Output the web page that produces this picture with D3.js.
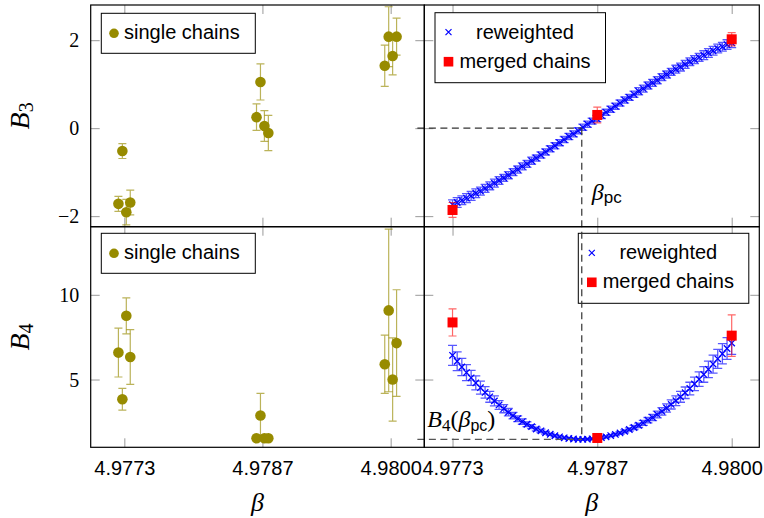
<!DOCTYPE html>
<html>
<head>
<meta charset="utf-8">
<script src="https://cdn.jsdelivr.net/npm/d3@7"></script>
<style>
html,body{margin:0;padding:0;background:#fff;}
svg{display:block;}
</style>
</head>
<body>
<svg id="c" width="764" height="518"></svg>
<script>
// ---------------- data ----------------
const xTicks = [4.9773, 4.9787, 4.9800];
const xTickLabels = ["4.9773", "4.9787", "4.9800"];
const B3Ticks = [-2, 0, 2];
const B3TickLabels = ["\u22122", "0", "2"];
const B4Ticks = [5, 10];
const B4TickLabels = ["5", "10"];

// single chains (left panels)
const singleBeta = [4.97724, 4.97728, 4.97732, 4.97736,
                    4.97864, 4.97868, 4.97872, 4.97876,
                    4.97994, 4.97998, 4.98002, 4.98006];
const B3single    = [-1.72, -0.52, -1.91, -1.69,  0.25, 1.05, 0.05, -0.11,  1.42, 2.08, 1.64, 2.08];
const B3singleErr = [ 0.17,  0.17,  0.29,  0.28,  0.30, 0.41, 0.35,  0.40,  0.47, 0.68, 0.43, 0.42];
const B4single    = [ 6.59,  3.84,  8.76,  6.33,  1.53, 2.88, 1.53,  1.53,  5.90, 9.08, 5.00, 7.15];
const B4singleErr = [ 1.44,  0.64,  1.06,  1.62,  0.05, 1.30, 0.05,  0.05,  1.72, 4.80, 2.46, 3.15];

// merged chains (right panels)
const mergedBeta   = [4.9773, 4.9787, 4.9800];
const B3merged     = [-1.86, 0.30, 2.02];
const B3mergedErr  = [0.17, 0.18, 0.15];
const B4merged     = [8.37, 1.55, 7.59];
const B4mergedErr  = [0.80, 0.05, 1.22];

// reweighted curve (right panels)
const rewBeta = [
 4.977300,4.977345,4.977390,4.977435,4.977480,4.977525,4.977570,4.977615,4.977660,4.977705,
 4.977750,4.977795,4.977840,4.977885,4.977930,4.977975,4.978020,4.978065,4.978110,4.978155,
 4.978200,4.978245,4.978290,4.978335,4.978380,4.978425,4.978470,4.978515,4.978560,4.978605,
 4.978650,4.978695,4.978740,4.978785,4.978830,4.978875,4.978920,4.978965,4.979010,4.979055,
 4.979100,4.979145,4.979190,4.979235,4.979280,4.979325,4.979370,4.979415,4.979460,4.979505,
 4.979550,4.979595,4.979640,4.979685,4.979730,4.979775,4.979820,4.979865,4.979910,4.979955,
 4.980000];
const B3rew = [
 -1.74,-1.69,-1.64,-1.59,-1.54,-1.48,-1.43,-1.37,-1.31,-1.25,
 -1.19,-1.13,-1.07,-1.00,-0.94,-0.87,-0.81,-0.74,-0.68,-0.61,
 -0.54,-0.47,-0.40,-0.33,-0.26,-0.19,-0.13,-0.06, 0.02, 0.09,
  0.16, 0.22, 0.29, 0.36, 0.43, 0.50, 0.57, 0.64, 0.70, 0.77,
  0.84, 0.90, 0.97, 1.03, 1.09, 1.16, 1.22, 1.28, 1.34, 1.39,
  1.45, 1.51, 1.56, 1.61, 1.66, 1.71, 1.76, 1.81, 1.85, 1.90,
  1.94];
const B3rewErr = [
 0.11,0.11,0.10,0.10,0.10,0.10,0.09,0.09,0.09,0.09,
 0.09,0.08,0.08,0.08,0.08,0.08,0.08,0.08,0.07,0.07,
 0.07,0.07,0.07,0.07,0.07,0.07,0.07,0.07,0.07,0.07,
 0.07,0.07,0.07,0.07,0.07,0.07,0.07,0.07,0.07,0.07,
 0.08,0.08,0.08,0.08,0.08,0.08,0.08,0.08,0.09,0.09,
 0.09,0.09,0.09,0.09,0.10,0.10,0.10,0.10,0.10,0.11,
 0.11];
const B4rew = [
 6.43,6.08,5.74,5.41,5.10,4.80,4.52,4.24,3.98,3.74,
 3.50,3.28,3.07,2.87,2.69,2.52,2.36,2.22,2.08,1.97,
 1.86,1.77,1.68,1.62,1.56,1.52,1.49,1.47,1.47,1.48,
 1.50,1.53,1.57,1.62,1.69,1.76,1.85,1.94,2.05,2.17,
 2.30,2.44,2.60,2.76,2.94,3.12,3.32,3.53,3.75,3.98,
 4.22,4.47,4.74,5.02,5.30,5.60,5.91,6.22,6.52,6.83,
 7.15];
const B4rewErr = [
 0.59,0.55,0.51,0.47,0.44,0.41,0.38,0.34,0.32,0.29,
 0.26,0.24,0.22,0.19,0.17,0.16,0.14,0.12,0.11,0.10,
 0.08,0.07,0.06,0.06,0.05,0.05,0.04,0.04,0.04,0.04,
 0.04,0.05,0.05,0.06,0.06,0.07,0.08,0.09,0.10,0.12,
 0.13,0.15,0.16,0.18,0.20,0.22,0.24,0.27,0.29,0.32,
 0.34,0.37,0.40,0.43,0.46,0.49,0.53,0.56,0.60,0.64,
 0.67];

const betaPc = 4.97855;
const B4AtBetaPc = 1.47;
const dashStartBeta = 4.97696;

// ---------------- styling ----------------
const sans = "'Liberation Sans', Arial, Helvetica, sans-serif";
const serif = "'Liberation Serif', 'Times New Roman', serif";
const olive = "#978b00";
const blue = "#0000ff";
const red = "#ff0000";
const tickColor = "#999999";

const svg = d3.select("#c");

// scales
const xL = d3.scaleLinear().domain([4.976959, 4.980341]).range([90.7, 424.3]);
const xR = d3.scaleLinear().domain([4.977027, 4.980267]).range([424.3, 759.3]);
const yT = d3.scaleLinear().domain([-2.24, 2.80]).range([226.7, 5]);
const yB = d3.scaleLinear().domain([1.0, 14.02]).range([447.3, 226.7]);

function styleAxis(a) {
  a.select(".domain").remove();
  a.selectAll(".tick line").attr("stroke", tickColor).attr("stroke-width", 1);
}

function axes(xs, ys, yTicks, yLabels, showX, showY) {
  const g = svg.append("g");
  const [x0, x1] = xs.range();
  const [y1, y0] = ys.range();
  const b = g.append("g").attr("transform", `translate(0,${y1})`)
    .call(d3.axisBottom(xs).tickValues(xTicks).tickSize(-9)
      .tickFormat((d, i) => showX ? xTickLabels[i] : ""));
  styleAxis(b);
  b.selectAll("text").attr("y", 28).attr("dy", 0)
    .attr("font-family", sans).attr("font-size", 20).attr("fill", "#000");
  const t = g.append("g").attr("transform", `translate(0,${y0})`)
    .call(d3.axisTop(xs).tickValues(xTicks).tickSize(-9).tickFormat(""));
  styleAxis(t);
  const l = g.append("g").attr("transform", `translate(${x0},0)`)
    .call(d3.axisLeft(ys).tickValues(yTicks).tickSize(-9)
      .tickFormat((d, i) => showY ? yLabels[i] : ""));
  styleAxis(l);
  l.selectAll("text").attr("x", -11.5).attr("dy", "0.33em")
    .attr("font-family", serif).attr("font-size", 20).attr("fill", "#000");
  const r = g.append("g").attr("transform", `translate(${x1},0)`)
    .call(d3.axisRight(ys).tickValues(yTicks).tickSize(-9).tickFormat(""));
  styleAxis(r);
}

axes(xL, yT, B3Ticks, B3TickLabels, false, true);
axes(xR, yT, B3Ticks, B3TickLabels, false, false);
axes(xL, yB, B4Ticks, B4TickLabels, true, true);
axes(xR, yB, B4Ticks, B4TickLabels, true, false);

function errorBars(g, xs, ys, xv, yv, ev, color, op, cap, sw) {
  const d = xv.map((x, i) => ({x: x, y: yv[i], e: ev[i]}));
  g.selectAll(null).data(d).enter().append("path")
    .attr("d", p => {
      const X = xs(p.x), Y1 = ys(p.y - p.e), Y2 = ys(p.y + p.e);
      return `M${X},${Y1}V${Y2}M${X - cap},${Y1}H${X + cap}M${X - cap},${Y2}H${X + cap}`;
    })
    .attr("fill", "none").attr("stroke", color).attr("stroke-opacity", op)
    .attr("stroke-width", sw);
}

function dots(g, xs, ys, xv, yv) {
  g.selectAll(null).data(xv.map((x, i) => [x, yv[i]])).enter().append("circle")
    .attr("cx", p => xs(p[0])).attr("cy", p => ys(p[1])).attr("r", 5.3)
    .attr("fill", olive);
}

function squares(g, xs, ys, xv, yv) {
  const s = 10;
  g.selectAll(null).data(xv.map((x, i) => [x, yv[i]])).enter().append("rect")
    .attr("x", p => xs(p[0]) - s / 2).attr("y", p => ys(p[1]) - s / 2)
    .attr("width", s).attr("height", s).attr("fill", red);
}

function crosses(g, xs, ys, xv, yv) {
  const h = 3.2;
  g.selectAll(null).data(xv.map((x, i) => [x, yv[i]])).enter().append("path")
    .attr("d", p => {
      const X = xs(p[0]), Y = ys(p[1]);
      return `M${X - h},${Y - h}L${X + h},${Y + h}M${X - h},${Y + h}L${X + h},${Y - h}`;
    })
    .attr("stroke", blue).attr("stroke-width", 1.3).attr("fill", "none");
}

const plots = svg.append("g");

// left panels: single chains
errorBars(plots, xL, yT, singleBeta, B3single, B3singleErr, olive, 0.65, 4, 1.2);
dots(plots, xL, yT, singleBeta, B3single);
errorBars(plots, xL, yB, singleBeta, B4single, B4singleErr, olive, 0.65, 4, 1.2);
dots(plots, xL, yB, singleBeta, B4single);

// right panels: reweighted + merged
errorBars(plots, xR, yT, rewBeta, B3rew, B3rewErr, blue, 0.65, 4.5, 1.3);
crosses(plots, xR, yT, rewBeta, B3rew);
errorBars(plots, xR, yT, mergedBeta, B3merged, B3mergedErr, red, 0.6, 4, 1.2);
squares(plots, xR, yT, mergedBeta, B3merged);

errorBars(plots, xR, yB, rewBeta, B4rew, B4rewErr, blue, 0.65, 4.5, 1.3);
crosses(plots, xR, yB, rewBeta, B4rew);
errorBars(plots, xR, yB, mergedBeta, B4merged, B4mergedErr, red, 0.6, 4, 1.2);
squares(plots, xR, yB, mergedBeta, B4merged);

// ---------------- legends ----------------
function singleLegend(x, y) {
  const g = svg.append("g");
  g.append("rect").attr("x", x).attr("y", y).attr("width", 154).attr("height", 40)
    .attr("fill", "#fff").attr("stroke", "#000").attr("stroke-width", 1);
  g.append("circle").attr("cx", x + 12.7).attr("cy", y + 20).attr("r", 4.8).attr("fill", olive);
  g.append("text").attr("x", x + 22.7).attr("y", y + 25.3)
    .attr("font-family", sans).attr("font-size", 20).text("single chains");
}
singleLegend(101.3, 13.3);
singleLegend(101.3, 233.3);

function rwLegend(x, y) {
  const g = svg.append("g");
  const w = 170.5, h = 70;
  g.append("rect").attr("x", x).attr("y", y).attr("width", w).attr("height", h)
    .attr("fill", "#fff").attr("stroke", "#000").attr("stroke-width", 1);
  const mx = x + 13.5, hx = 3;
  const y1 = y + 19.5, y2 = y + 49;
  g.append("path")
    .attr("d", `M${mx - hx},${y1 - hx}L${mx + hx},${y1 + hx}M${mx - hx},${y1 + hx}L${mx + hx},${y1 - hx}`)
    .attr("stroke", blue).attr("stroke-width", 1.2);
  g.append("rect").attr("x", mx - 4.8).attr("y", y2 - 4.8).attr("width", 9.6).attr("height", 9.6).attr("fill", red);
  const cx = x + 90;
  g.append("text").attr("x", cx).attr("y", y1 + 6.3).attr("text-anchor", "middle")
    .attr("font-family", sans).attr("font-size", 20).text("reweighted");
  g.append("text").attr("x", cx).attr("y", y2 + 6).attr("text-anchor", "middle")
    .attr("font-family", sans).attr("font-size", 20).text("merged chains");
}
rwLegend(435, 12.7);
rwLegend(578.3, 233.3);

// ---------------- β_pc guide lines ----------------
const guides = svg.append("g").attr("fill", "none").attr("stroke", "#333")
  .attr("stroke-width", 1.2).attr("stroke-dasharray", "7,4.5");
guides.append("path")
  .attr("d", `M${xR(dashStartBeta)},${yT(0)}H${xR(betaPc)}`);
guides.append("path")
  .attr("d", `M${xR(betaPc)},${yT(0)}V${yB(B4AtBetaPc)}`);
guides.append("path").attr("stroke", "#555")
  .attr("d", `M${xR(dashStartBeta)},${yB(B4AtBetaPc)}H${xR(betaPc)}`);

// annotations
const t1 = svg.append("text").attr("x", xR(betaPc) + 10).attr("y", yT(-1.63));
t1.append("tspan").attr("font-family", serif).attr("font-style", "italic").attr("font-size", 24).text("β");
t1.append("tspan").attr("font-family", sans).attr("font-size", 17).attr("dy", 3).text("pc");

const t2 = svg.append("text").attr("x", xR.range()[0] + 3).attr("y", yB(B4AtBetaPc) - 12.6);
t2.append("tspan").attr("font-family", serif).attr("font-style", "italic").attr("font-size", 24).text("B");
t2.append("tspan").attr("font-family", serif).attr("font-size", 17).attr("dy", 4).text("4");
t2.append("tspan").attr("font-family", serif).attr("font-size", 24).attr("dy", -4).text("(");
t2.append("tspan").attr("font-family", serif).attr("font-style", "italic").attr("font-size", 24).text("β");
t2.append("tspan").attr("font-family", sans).attr("font-size", 16).attr("dy", 4).text("pc");
t2.append("tspan").attr("font-family", serif).attr("font-size", 24).attr("dy", -4).text(")");

// ---------------- frames ----------------
function frame(xs, ys) {
  const [x0, x1] = xs.range();
  const [y1, y0] = ys.range();
  svg.append("rect").attr("x", x0).attr("y", y0).attr("width", x1 - x0).attr("height", y1 - y0)
    .attr("fill", "none").attr("stroke", "#000").attr("stroke-width", 1.2);
}
frame(xL, yT); frame(xR, yT); frame(xL, yB); frame(xR, yB);

// ---------------- axis titles ----------------
function yTitle(ys, sub) {
  const [y1, y0] = ys.range();
  const t = svg.append("text").attr("transform", `translate(28.5,${(y0 + y1) / 2}) rotate(-90)`)
    .attr("text-anchor", "middle");
  t.append("tspan").attr("font-family", serif).attr("font-style", "italic").attr("font-size", 28).text("B");
  t.append("tspan").attr("font-family", serif).attr("font-size", 20).attr("dy", 4).text(sub);
}
yTitle(yT, "3");
yTitle(yB, "4");

function xTitle(xs) {
  const [x0, x1] = xs.range();
  svg.append("text").attr("x", (x0 + x1) / 2).attr("y", 510.5).attr("text-anchor", "middle")
    .attr("font-family", serif).attr("font-style", "italic").attr("font-size", 26).text("β");
}
xTitle(xL); xTitle(xR);
</script>
</body>
</html>
